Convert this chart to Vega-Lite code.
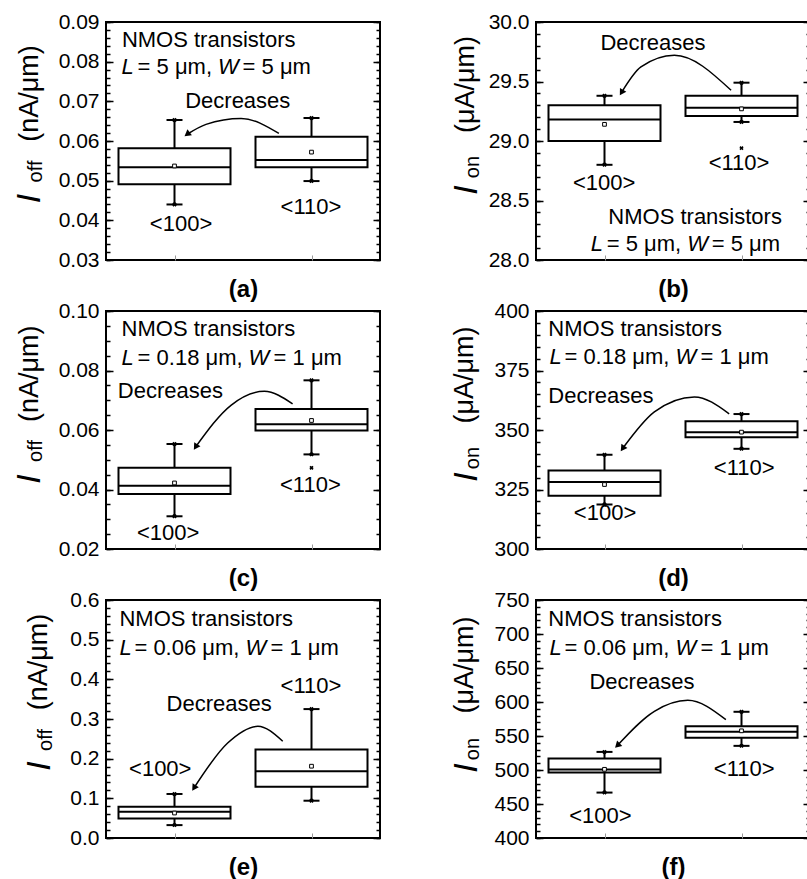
{
"$schema": "https://vega.github.io/schema/vega-lite/v6.json",
"padding": {"left": 11, "top": 10, "right": 0, "bottom": 0},
"background": "white",
"columns": 2,
"spacing": {"row": 51, "column": 156},
"bounds": "flush",
"concat": [
{
"width": 274, "height": 238,
"data": {"values": [
 {"orient": "<100>", "lo": 0.0440, "q1": 0.0491, "median": 0.0534, "q3": 0.0582, "hi": 0.0653, "mean": 0.0537},
 {"orient": "<110>", "lo": 0.0499, "q1": 0.0534, "median": 0.0552, "q3": 0.0611, "hi": 0.0658, "mean": 0.0572}]},
"resolve": {"scale": {"x": "independent"}, "axis": {"x": "independent", "y": "independent"}},
"layer": [
 {"mark": {"type": "rule", "strokeWidth": 2, "color": "black"},
  "encoding": {
   "x": {"field": "orient", "type": "nominal", "scale": {"type": "point", "padding": 0.5, "domain": ["<100>", "<110>"]}, "axis": {"orient": "bottom", "labels": false, "domain": false, "tickSize": -5, "tickColor": "#999999", "tickWidth": 1, "title": "(a)", "titleFontSize": 24, "titleFontWeight": "bold", "titlePadding": 17}},
   "y": {"field": "lo", "type": "quantitative", "scale": {"domain": [0.03, 0.09], "nice": false, "zero": false}, "axis": {"orient": "left", "values": [0.03,0.04,0.05,0.06,0.07,0.08,0.09], "format": ".2f", "tickSize": -7, "labelPadding": 14, "domain": false, "title": null}},
   "y2": {"field": "hi"}}},
 {"mark": {"type": "bar", "size": 112, "fill": "white", "stroke": "black", "strokeWidth": 2},
  "encoding": {"x": {"field": "orient", "type": "nominal", "scale": {"type": "point", "padding": 0.5, "domain": ["<100>", "<110>"]}, "axis": null},
   "y": {"field": "q1", "type": "quantitative", "axis": {"orient": "left", "values": [0.03,0.032,0.034,0.036,0.038,0.04,0.042,0.044,0.046,0.048,0.05,0.052,0.054,0.056,0.058,0.06,0.062,0.064,0.066,0.068,0.07,0.072,0.074,0.076,0.078,0.08,0.082,0.084,0.086,0.088,0.09], "labels": false, "tickSize": -4, "domain": false, "title": null}},
   "y2": {"field": "q3"}}},
 {"mark": {"type": "tick", "size": 112, "thickness": 2, "color": "black", "opacity": 1},
  "encoding": {"x": {"field": "orient", "type": "nominal", "scale": {"type": "point", "padding": 0.5, "domain": ["<100>", "<110>"]}, "axis": null},
   "y": {"field": "median", "type": "quantitative", "axis": {"orient": "right", "values": [0.03,0.04,0.05,0.06,0.07,0.08,0.09], "labels": false, "tickSize": -7, "domain": false, "title": null}}}},
 {"transform": [{"fold": ["lo", "hi"], "as": ["end", "v"]}],
  "mark": {"type": "tick", "size": 16, "thickness": 2, "color": "black", "opacity": 1},
  "encoding": {"x": {"field": "orient", "type": "nominal", "scale": {"type": "point", "padding": 0.5, "domain": ["<100>", "<110>"]}, "axis": null},
   "y": {"field": "v", "type": "quantitative", "axis": {"orient": "right", "values": [0.03,0.032,0.034,0.036,0.038,0.04,0.042,0.044,0.046,0.048,0.05,0.052,0.054,0.056,0.058,0.06,0.062,0.064,0.066,0.068,0.07,0.072,0.074,0.076,0.078,0.08,0.082,0.084,0.086,0.088,0.09], "labels": false, "tickSize": -4, "domain": false, "title": null}}}},
 {"transform": [{"fold": ["lo", "hi"], "as": ["end", "v"]}],
  "mark": {"type": "point", "shape": "cross", "angle": 45, "size": 20, "filled": true, "color": "black", "opacity": 1},
  "encoding": {"x": {"field": "orient", "type": "nominal", "scale": {"type": "point", "padding": 0.5, "domain": ["<100>", "<110>"]}, "axis": null},
   "y": {"field": "v", "type": "quantitative", "axis": null}}},
 {"mark": {"type": "point", "shape": "square", "size": 14, "filled": true, "fill": "white", "stroke": "black", "strokeWidth": 1, "opacity": 1},
  "encoding": {"x": {"field": "orient", "type": "nominal", "scale": {"type": "point", "padding": 0.5, "domain": ["<100>", "<110>"]}, "axis": null},
   "y": {"field": "mean", "type": "quantitative", "axis": null}}},
 {"data": {"values": [{"x": 0.631, "y": 0.0619}, {"x": 0.493, "y": 0.0657}, {"x": 0.365, "y": 0.0642}, {"x": 0.296, "y": 0.0617}]},
  "mark": {"type": "line", "interpolate": "monotone", "strokeWidth": 1.5, "color": "black"},
  "encoding": {"x": {"field": "x", "type": "quantitative", "scale": {"domain": [0, 1]}, "axis": null}, "y": {"field": "y", "type": "quantitative", "axis": null}}},
 {"data": {"values": [{}]},
  "mark": {"type": "point", "shape": "triangle-up", "size": 55, "filled": true, "color": "black", "opacity": 1, "angle": 233},
  "encoding": {"x": {"datum": 0.296, "type": "quantitative", "scale": {"domain": [0, 1]}, "axis": null}, "y": {"datum": 0.0617, "type": "quantitative", "axis": null}}},
 {"data": {"values": [{}]},
  "encoding": {"x": {"datum": -0.25, "type": "quantitative", "scale": {"domain": [0, 1]}, "axis": null}, "y": {"datum": 0.06, "type": "quantitative", "axis": null}},
  "layer": [
   {"mark": {"type": "text", "text": "I", "fontStyle": "italic", "fontSize": 34, "angle": 270, "align": "center", "dx": -57.5, "dy": 2.5}},
   {"mark": {"type": "text", "text": "off", "fontSize": 20, "angle": 270, "align": "center", "dx": -30.5, "dy": 4.5}},
   {"mark": {"type": "text", "text": "(nA/μm)", "fontSize": 27, "angle": 270, "align": "center", "dx": 47.5, "dy": 0}}]},
 {"data": {"values": [{}]}, "mark": {"type": "text", "text": "NMOS transistors"},
  "encoding": {"x": {"datum": 0.058, "type": "quantitative", "scale": {"domain": [0, 1]}, "axis": null}, "y": {"datum": 0.0837, "type": "quantitative", "axis": null}}},
 {"data": {"values": [{}]},
  "encoding": {"x": {"datum": 0.057, "type": "quantitative", "scale": {"domain": [0, 1]}, "axis": null}, "y": {"datum": 0.0770, "type": "quantitative", "axis": null}},
  "layer": [
   {"mark": {"type": "text", "text": "L", "fontStyle": "italic"}},
   {"mark": {"type": "text", "text": "= 5 μm,", "dx": 16}},
   {"mark": {"type": "text", "text": "W", "fontStyle": "italic", "dx": 96.5}},
   {"mark": {"type": "text", "text": "= 5 μm", "dx": 121}}]},
 {"data": {"values": [{}]}, "mark": {"type": "text", "text": "Decreases"},
  "encoding": {"x": {"datum": 0.289, "type": "quantitative", "scale": {"domain": [0, 1]}, "axis": null}, "y": {"datum": 0.0682, "type": "quantitative", "axis": null}}},
 {"data": {"values": [{}]}, "mark": {"type": "text", "text": "<100>", "align": "center"},
  "encoding": {"x": {"datum": 0.274, "type": "quantitative", "scale": {"domain": [0, 1]}, "axis": null}, "y": {"datum": 0.0374, "type": "quantitative", "axis": null}}},
 {"data": {"values": [{}]}, "mark": {"type": "text", "text": "<110>", "align": "center"},
  "encoding": {"x": {"datum": 0.748, "type": "quantitative", "scale": {"domain": [0, 1]}, "axis": null}, "y": {"datum": 0.0415, "type": "quantitative", "axis": null}}}
]},
{
"width": 274, "height": 238,
"data": {"values": [
 {"orient": "<100>", "lo": 28.80, "q1": 29.00, "median": 29.18, "q3": 29.30, "hi": 29.38, "mean": 29.14},
 {"orient": "<110>", "lo": 29.16, "q1": 29.21, "median": 29.28, "q3": 29.38, "hi": 29.49, "mean": 29.27}]},
"resolve": {"scale": {"x": "independent"}, "axis": {"x": "independent", "y": "independent"}},
"layer": [
 {"mark": {"type": "rule", "strokeWidth": 2, "color": "black"},
  "encoding": {
   "x": {"field": "orient", "type": "nominal", "scale": {"type": "point", "padding": 0.5, "domain": ["<100>", "<110>"]}, "axis": {"orient": "bottom", "labels": false, "domain": false, "tickSize": -5, "tickColor": "#999999", "tickWidth": 1, "title": "(b)", "titleFontSize": 24, "titleFontWeight": "bold", "titlePadding": 17}},
   "y": {"field": "lo", "type": "quantitative", "scale": {"domain": [28, 30], "nice": false, "zero": false}, "axis": {"orient": "left", "values": [28,28.5,29,29.5,30], "format": ".1f", "tickSize": -7, "labelPadding": 14, "domain": false, "title": null}},
   "y2": {"field": "hi"}}},
 {"mark": {"type": "bar", "size": 112, "fill": "white", "stroke": "black", "strokeWidth": 2},
  "encoding": {"x": {"field": "orient", "type": "nominal", "scale": {"type": "point", "padding": 0.5, "domain": ["<100>", "<110>"]}, "axis": null},
   "y": {"field": "q1", "type": "quantitative", "axis": {"orient": "left", "values": [28,28.1,28.2,28.3,28.4,28.5,28.6,28.7,28.8,28.9,29,29.1,29.2,29.3,29.4,29.5,29.6,29.7,29.8,29.9,30], "labels": false, "tickSize": -4, "domain": false, "title": null}},
   "y2": {"field": "q3"}}},
 {"mark": {"type": "tick", "size": 112, "thickness": 2, "color": "black", "opacity": 1},
  "encoding": {"x": {"field": "orient", "type": "nominal", "scale": {"type": "point", "padding": 0.5, "domain": ["<100>", "<110>"]}, "axis": null},
   "y": {"field": "median", "type": "quantitative", "axis": {"orient": "right", "values": [28,28.5,29,29.5,30], "labels": false, "tickSize": -7, "domain": false, "title": null}}}},
 {"transform": [{"fold": ["lo", "hi"], "as": ["end", "v"]}],
  "mark": {"type": "tick", "size": 16, "thickness": 2, "color": "black", "opacity": 1},
  "encoding": {"x": {"field": "orient", "type": "nominal", "scale": {"type": "point", "padding": 0.5, "domain": ["<100>", "<110>"]}, "axis": null},
   "y": {"field": "v", "type": "quantitative", "axis": {"orient": "right", "values": [28,28.1,28.2,28.3,28.4,28.5,28.6,28.7,28.8,28.9,29,29.1,29.2,29.3,29.4,29.5,29.6,29.7,29.8,29.9,30], "labels": false, "tickSize": -4, "domain": false, "title": null}}}},
 {"transform": [{"fold": ["lo", "hi"], "as": ["end", "v"]}],
  "mark": {"type": "point", "shape": "cross", "angle": 45, "size": 20, "filled": true, "color": "black", "opacity": 1},
  "encoding": {"x": {"field": "orient", "type": "nominal", "scale": {"type": "point", "padding": 0.5, "domain": ["<100>", "<110>"]}, "axis": null},
   "y": {"field": "v", "type": "quantitative", "axis": null}}},
 {"mark": {"type": "point", "shape": "square", "size": 14, "filled": true, "fill": "white", "stroke": "black", "strokeWidth": 1, "opacity": 1},
  "encoding": {"x": {"field": "orient", "type": "nominal", "scale": {"type": "point", "padding": 0.5, "domain": ["<100>", "<110>"]}, "axis": null},
   "y": {"field": "mean", "type": "quantitative", "axis": null}}},
 {"data": {"values": [{"orient": "<110>", "value": 28.94}]},
  "mark": {"type": "point", "shape": "cross", "angle": 45, "size": 18, "filled": true, "color": "black", "opacity": 1},
  "encoding": {"x": {"field": "orient", "type": "nominal", "scale": {"type": "point", "padding": 0.5, "domain": ["<100>", "<110>"]}, "axis": null},
   "y": {"field": "value", "type": "quantitative", "axis": null}}},
 {"data": {"values": [{"x": 0.712, "y": 29.426}, {"x": 0.505, "y": 29.72}, {"x": 0.383, "y": 29.622}, {"x": 0.312, "y": 29.407}]},
  "mark": {"type": "line", "interpolate": "monotone", "strokeWidth": 1.5, "color": "black"},
  "encoding": {"x": {"field": "x", "type": "quantitative", "scale": {"domain": [0, 1]}, "axis": null}, "y": {"field": "y", "type": "quantitative", "axis": null}}},
 {"data": {"values": [{}]},
  "mark": {"type": "point", "shape": "triangle-up", "size": 55, "filled": true, "color": "black", "opacity": 1, "angle": 211},
  "encoding": {"x": {"datum": 0.312, "type": "quantitative", "scale": {"domain": [0, 1]}, "axis": null}, "y": {"datum": 29.407, "type": "quantitative", "axis": null}}},
 {"data": {"values": [{}]},
  "encoding": {"x": {"datum": -0.25, "type": "quantitative", "scale": {"domain": [0, 1]}, "axis": null}, "y": {"datum": 29, "type": "quantitative", "axis": null}},
  "layer": [
   {"mark": {"type": "text", "text": "I", "fontStyle": "italic", "fontSize": 34, "angle": 270, "align": "center", "dx": -49, "dy": 9}},
   {"mark": {"type": "text", "text": "on", "fontSize": 20, "angle": 270, "align": "center", "dx": -26, "dy": 11}},
   {"mark": {"type": "text", "text": "(μA/μm)", "fontSize": 27, "angle": 270, "align": "center", "dx": 56.5, "dy": 6}}]},
 {"data": {"values": [{}]}, "mark": {"type": "text", "text": "Decreases"},
  "encoding": {"x": {"datum": 0.235, "type": "quantitative", "scale": {"domain": [0, 1]}, "axis": null}, "y": {"datum": 29.762, "type": "quantitative", "axis": null}}},
 {"data": {"values": [{}]}, "mark": {"type": "text", "text": "<100>", "align": "center"},
  "encoding": {"x": {"datum": 0.249, "type": "quantitative", "scale": {"domain": [0, 1]}, "axis": null}, "y": {"datum": 28.586, "type": "quantitative", "axis": null}}},
 {"data": {"values": [{}]}, "mark": {"type": "text", "text": "<110>", "align": "center"},
  "encoding": {"x": {"datum": 0.741, "type": "quantitative", "scale": {"domain": [0, 1]}, "axis": null}, "y": {"datum": 28.754, "type": "quantitative", "axis": null}}},
 {"data": {"values": [{}]}, "mark": {"type": "text", "text": "NMOS transistors"},
  "encoding": {"x": {"datum": 0.264, "type": "quantitative", "scale": {"domain": [0, 1]}, "axis": null}, "y": {"datum": 28.305, "type": "quantitative", "axis": null}}},
 {"data": {"values": [{}]},
  "encoding": {"x": {"datum": 0.2, "type": "quantitative", "scale": {"domain": [0, 1]}, "axis": null}, "y": {"datum": 28.073, "type": "quantitative", "axis": null}},
  "layer": [
   {"mark": {"type": "text", "text": "L", "fontStyle": "italic"}},
   {"mark": {"type": "text", "text": "= 5 μm,", "dx": 16}},
   {"mark": {"type": "text", "text": "W", "fontStyle": "italic", "dx": 96.5}},
   {"mark": {"type": "text", "text": "= 5 μm", "dx": 121}}]}
]},
{
"width": 274, "height": 238,
"data": {"values": [
 {"orient": "<100>", "lo": 0.0310, "q1": 0.0385, "median": 0.0413, "q3": 0.0473, "hi": 0.0553, "mean": 0.0422},
 {"orient": "<110>", "lo": 0.0518, "q1": 0.0598, "median": 0.0619, "q3": 0.0671, "hi": 0.0767, "mean": 0.0632}]},
"resolve": {"scale": {"x": "independent"}, "axis": {"x": "independent", "y": "independent"}},
"layer": [
 {"mark": {"type": "rule", "strokeWidth": 2, "color": "black"},
  "encoding": {
   "x": {"field": "orient", "type": "nominal", "scale": {"type": "point", "padding": 0.5, "domain": ["<100>", "<110>"]}, "axis": {"orient": "bottom", "labels": false, "domain": false, "tickSize": -5, "tickColor": "#999999", "tickWidth": 1, "title": "(c)", "titleFontSize": 24, "titleFontWeight": "bold", "titlePadding": 17}},
   "y": {"field": "lo", "type": "quantitative", "scale": {"domain": [0.02, 0.10], "nice": false, "zero": false}, "axis": {"orient": "left", "values": [0.02,0.04,0.06,0.08,0.1], "format": ".2f", "tickSize": -7, "labelPadding": 14, "domain": false, "title": null}},
   "y2": {"field": "hi"}}},
 {"mark": {"type": "bar", "size": 112, "fill": "white", "stroke": "black", "strokeWidth": 2},
  "encoding": {"x": {"field": "orient", "type": "nominal", "scale": {"type": "point", "padding": 0.5, "domain": ["<100>", "<110>"]}, "axis": null},
   "y": {"field": "q1", "type": "quantitative", "axis": {"orient": "left", "values": [0.02,0.025,0.03,0.035,0.04,0.045,0.05,0.055,0.06,0.065,0.07,0.075,0.08,0.085,0.09,0.095,0.1], "labels": false, "tickSize": -4, "domain": false, "title": null}},
   "y2": {"field": "q3"}}},
 {"mark": {"type": "tick", "size": 112, "thickness": 2, "color": "black", "opacity": 1},
  "encoding": {"x": {"field": "orient", "type": "nominal", "scale": {"type": "point", "padding": 0.5, "domain": ["<100>", "<110>"]}, "axis": null},
   "y": {"field": "median", "type": "quantitative", "axis": {"orient": "right", "values": [0.02,0.04,0.06,0.08,0.1], "labels": false, "tickSize": -7, "domain": false, "title": null}}}},
 {"transform": [{"fold": ["lo", "hi"], "as": ["end", "v"]}],
  "mark": {"type": "tick", "size": 16, "thickness": 2, "color": "black", "opacity": 1},
  "encoding": {"x": {"field": "orient", "type": "nominal", "scale": {"type": "point", "padding": 0.5, "domain": ["<100>", "<110>"]}, "axis": null},
   "y": {"field": "v", "type": "quantitative", "axis": {"orient": "right", "values": [0.02,0.025,0.03,0.035,0.04,0.045,0.05,0.055,0.06,0.065,0.07,0.075,0.08,0.085,0.09,0.095,0.1], "labels": false, "tickSize": -4, "domain": false, "title": null}}}},
 {"transform": [{"fold": ["lo", "hi"], "as": ["end", "v"]}],
  "mark": {"type": "point", "shape": "cross", "angle": 45, "size": 20, "filled": true, "color": "black", "opacity": 1},
  "encoding": {"x": {"field": "orient", "type": "nominal", "scale": {"type": "point", "padding": 0.5, "domain": ["<100>", "<110>"]}, "axis": null},
   "y": {"field": "v", "type": "quantitative", "axis": null}}},
 {"mark": {"type": "point", "shape": "square", "size": 14, "filled": true, "fill": "white", "stroke": "black", "strokeWidth": 1, "opacity": 1},
  "encoding": {"x": {"field": "orient", "type": "nominal", "scale": {"type": "point", "padding": 0.5, "domain": ["<100>", "<110>"]}, "axis": null},
   "y": {"field": "mean", "type": "quantitative", "axis": null}}},
 {"data": {"values": [{"orient": "<110>", "value": 0.0473}]},
  "mark": {"type": "point", "shape": "cross", "angle": 45, "size": 18, "filled": true, "color": "black", "opacity": 1},
  "encoding": {"x": {"field": "orient", "type": "nominal", "scale": {"type": "point", "padding": 0.5, "domain": ["<100>", "<110>"]}, "axis": null},
   "y": {"field": "value", "type": "quantitative", "axis": null}}},
 {"data": {"values": [{"x": 0.681, "y": 0.0688}, {"x": 0.578, "y": 0.073}, {"x": 0.456, "y": 0.0683}, {"x": 0.327, "y": 0.0543}]},
  "mark": {"type": "line", "interpolate": "monotone", "strokeWidth": 1.5, "color": "black"},
  "encoding": {"x": {"field": "x", "type": "quantitative", "scale": {"domain": [0, 1]}, "axis": null}, "y": {"field": "y", "type": "quantitative", "axis": null}}},
 {"data": {"values": [{}]},
  "mark": {"type": "point", "shape": "triangle-up", "size": 55, "filled": true, "color": "black", "opacity": 1, "angle": 213},
  "encoding": {"x": {"datum": 0.327, "type": "quantitative", "scale": {"domain": [0, 1]}, "axis": null}, "y": {"datum": 0.0543, "type": "quantitative", "axis": null}}},
 {"data": {"values": [{}]},
  "encoding": {"x": {"datum": -0.25, "type": "quantitative", "scale": {"domain": [0, 1]}, "axis": null}, "y": {"datum": 0.06, "type": "quantitative", "axis": null}},
  "layer": [
   {"mark": {"type": "text", "text": "I", "fontStyle": "italic", "fontSize": 34, "angle": 270, "align": "center", "dx": -49, "dy": 2.5}},
   {"mark": {"type": "text", "text": "off", "fontSize": 20, "angle": 270, "align": "center", "dx": -21, "dy": 4.5}},
   {"mark": {"type": "text", "text": "(nA/μm)", "fontSize": 27, "angle": 270, "align": "center", "dx": 56.3, "dy": 0}}]},
 {"data": {"values": [{}]}, "mark": {"type": "text", "text": "NMOS transistors"},
  "encoding": {"x": {"datum": 0.057, "type": "quantitative", "scale": {"domain": [0, 1]}, "axis": null}, "y": {"datum": 0.0915, "type": "quantitative", "axis": null}}},
 {"data": {"values": [{}]},
  "encoding": {"x": {"datum": 0.057, "type": "quantitative", "scale": {"domain": [0, 1]}, "axis": null}, "y": {"datum": 0.0820, "type": "quantitative", "axis": null}},
  "layer": [
   {"mark": {"type": "text", "text": "L", "fontStyle": "italic"}},
   {"mark": {"type": "text", "text": "= 0.18 μm,", "dx": 16}},
   {"mark": {"type": "text", "text": "W", "fontStyle": "italic", "dx": 127}},
   {"mark": {"type": "text", "text": "= 1 μm", "dx": 152}}]},
 {"data": {"values": [{}]}, "mark": {"type": "text", "text": "Decreases"},
  "encoding": {"x": {"datum": 0.043, "type": "quantitative", "scale": {"domain": [0, 1]}, "axis": null}, "y": {"datum": 0.0708, "type": "quantitative", "axis": null}}},
 {"data": {"values": [{}]}, "mark": {"type": "text", "text": "<100>", "align": "center"},
  "encoding": {"x": {"datum": 0.227, "type": "quantitative", "scale": {"domain": [0, 1]}, "axis": null}, "y": {"datum": 0.0229, "type": "quantitative", "axis": null}}},
 {"data": {"values": [{}]}, "mark": {"type": "text", "text": "<110>", "align": "center"},
  "encoding": {"x": {"datum": 0.746, "type": "quantitative", "scale": {"domain": [0, 1]}, "axis": null}, "y": {"datum": 0.0392, "type": "quantitative", "axis": null}}}
]},
{
"width": 274, "height": 238,
"data": {"values": [
 {"orient": "<100>", "lo": 318.7, "q1": 322.4, "median": 328.1, "q3": 333.0, "hi": 339.6, "mean": 327.1},
 {"orient": "<110>", "lo": 342.1, "q1": 347.0, "median": 349.1, "q3": 353.7, "hi": 356.7, "mean": 349.1}]},
"resolve": {"scale": {"x": "independent"}, "axis": {"x": "independent", "y": "independent"}},
"layer": [
 {"mark": {"type": "rule", "strokeWidth": 2, "color": "black"},
  "encoding": {
   "x": {"field": "orient", "type": "nominal", "scale": {"type": "point", "padding": 0.5, "domain": ["<100>", "<110>"]}, "axis": {"orient": "bottom", "labels": false, "domain": false, "tickSize": -5, "tickColor": "#999999", "tickWidth": 1, "title": "(d)", "titleFontSize": 24, "titleFontWeight": "bold", "titlePadding": 17}},
   "y": {"field": "lo", "type": "quantitative", "scale": {"domain": [300, 400], "nice": false, "zero": false}, "axis": {"orient": "left", "values": [300,325,350,375,400], "format": "d", "tickSize": -7, "labelPadding": 14, "domain": false, "title": null}},
   "y2": {"field": "hi"}}},
 {"mark": {"type": "bar", "size": 112, "fill": "white", "stroke": "black", "strokeWidth": 2},
  "encoding": {"x": {"field": "orient", "type": "nominal", "scale": {"type": "point", "padding": 0.5, "domain": ["<100>", "<110>"]}, "axis": null},
   "y": {"field": "q1", "type": "quantitative", "axis": {"orient": "left", "values": [300,305,310,315,320,325,330,335,340,345,350,355,360,365,370,375,380,385,390,395,400], "labels": false, "tickSize": -4, "domain": false, "title": null}},
   "y2": {"field": "q3"}}},
 {"mark": {"type": "tick", "size": 112, "thickness": 2, "color": "black", "opacity": 1},
  "encoding": {"x": {"field": "orient", "type": "nominal", "scale": {"type": "point", "padding": 0.5, "domain": ["<100>", "<110>"]}, "axis": null},
   "y": {"field": "median", "type": "quantitative", "axis": {"orient": "right", "values": [300,325,350,375,400], "labels": false, "tickSize": -7, "domain": false, "title": null}}}},
 {"transform": [{"fold": ["lo", "hi"], "as": ["end", "v"]}],
  "mark": {"type": "tick", "size": 16, "thickness": 2, "color": "black", "opacity": 1},
  "encoding": {"x": {"field": "orient", "type": "nominal", "scale": {"type": "point", "padding": 0.5, "domain": ["<100>", "<110>"]}, "axis": null},
   "y": {"field": "v", "type": "quantitative", "axis": {"orient": "right", "values": [300,305,310,315,320,325,330,335,340,345,350,355,360,365,370,375,380,385,390,395,400], "labels": false, "tickSize": -4, "domain": false, "title": null}}}},
 {"transform": [{"fold": ["lo", "hi"], "as": ["end", "v"]}],
  "mark": {"type": "point", "shape": "cross", "angle": 45, "size": 20, "filled": true, "color": "black", "opacity": 1},
  "encoding": {"x": {"field": "orient", "type": "nominal", "scale": {"type": "point", "padding": 0.5, "domain": ["<100>", "<110>"]}, "axis": null},
   "y": {"field": "v", "type": "quantitative", "axis": null}}},
 {"mark": {"type": "point", "shape": "square", "size": 14, "filled": true, "fill": "white", "stroke": "black", "strokeWidth": 1, "opacity": 1},
  "encoding": {"x": {"field": "orient", "type": "nominal", "scale": {"type": "point", "padding": 0.5, "domain": ["<100>", "<110>"]}, "axis": null},
   "y": {"field": "mean", "type": "quantitative", "axis": null}}},
 {"data": {"values": [{"x": 0.705, "y": 356.8}, {"x": 0.578, "y": 363.9}, {"x": 0.432, "y": 357.6}, {"x": 0.316, "y": 342.2}]},
  "mark": {"type": "line", "interpolate": "monotone", "strokeWidth": 1.5, "color": "black"},
  "encoding": {"x": {"field": "x", "type": "quantitative", "scale": {"domain": [0, 1]}, "axis": null}, "y": {"field": "y", "type": "quantitative", "axis": null}}},
 {"data": {"values": [{}]},
  "mark": {"type": "point", "shape": "triangle-up", "size": 55, "filled": true, "color": "black", "opacity": 1, "angle": 215},
  "encoding": {"x": {"datum": 0.316, "type": "quantitative", "scale": {"domain": [0, 1]}, "axis": null}, "y": {"datum": 342.2, "type": "quantitative", "axis": null}}},
 {"data": {"values": [{}]},
  "encoding": {"x": {"datum": -0.25, "type": "quantitative", "scale": {"domain": [0, 1]}, "axis": null}, "y": {"datum": 350, "type": "quantitative", "axis": null}},
  "layer": [
   {"mark": {"type": "text", "text": "I", "fontStyle": "italic", "fontSize": 34, "angle": 270, "align": "center", "dx": -47, "dy": 9}},
   {"mark": {"type": "text", "text": "on", "fontSize": 20, "angle": 270, "align": "center", "dx": -28, "dy": 11}},
   {"mark": {"type": "text", "text": "(μA/μm)", "fontSize": 27, "angle": 270, "align": "center", "dx": 55, "dy": 5.5}}]},
 {"data": {"values": [{}]}, "mark": {"type": "text", "text": "NMOS transistors"},
  "encoding": {"x": {"datum": 0.045, "type": "quantitative", "scale": {"domain": [0, 1]}, "axis": null}, "y": {"datum": 389.4, "type": "quantitative", "axis": null}}},
 {"data": {"values": [{}]},
  "encoding": {"x": {"datum": 0.049, "type": "quantitative", "scale": {"domain": [0, 1]}, "axis": null}, "y": {"datum": 377.6, "type": "quantitative", "axis": null}},
  "layer": [
   {"mark": {"type": "text", "text": "L", "fontStyle": "italic"}},
   {"mark": {"type": "text", "text": "= 0.18 μm,", "dx": 15}},
   {"mark": {"type": "text", "text": "W", "fontStyle": "italic", "dx": 126}},
   {"mark": {"type": "text", "text": "= 1 μm", "dx": 151}}]},
 {"data": {"values": [{}]}, "mark": {"type": "text", "text": "Decreases"},
  "encoding": {"x": {"datum": 0.045, "type": "quantitative", "scale": {"domain": [0, 1]}, "axis": null}, "y": {"datum": 361.3, "type": "quantitative", "axis": null}}},
 {"data": {"values": [{}]}, "mark": {"type": "text", "text": "<100>", "align": "center"},
  "encoding": {"x": {"datum": 0.252, "type": "quantitative", "scale": {"domain": [0, 1]}, "axis": null}, "y": {"datum": 312.0, "type": "quantitative", "axis": null}}},
 {"data": {"values": [{}]}, "mark": {"type": "text", "text": "<110>", "align": "center"},
  "encoding": {"x": {"datum": 0.760, "type": "quantitative", "scale": {"domain": [0, 1]}, "axis": null}, "y": {"datum": 331.0, "type": "quantitative", "axis": null}}}
]},
{
"width": 274, "height": 238,
"data": {"values": [
 {"orient": "<100>", "lo": 0.0325, "q1": 0.049, "median": 0.066, "q3": 0.079, "hi": 0.111, "mean": 0.063},
 {"orient": "<110>", "lo": 0.094, "q1": 0.129, "median": 0.168, "q3": 0.223, "hi": 0.325, "mean": 0.181}]},
"resolve": {"scale": {"x": "independent"}, "axis": {"x": "independent", "y": "independent"}},
"layer": [
 {"mark": {"type": "rule", "strokeWidth": 2, "color": "black"},
  "encoding": {
   "x": {"field": "orient", "type": "nominal", "scale": {"type": "point", "padding": 0.5, "domain": ["<100>", "<110>"]}, "axis": {"orient": "bottom", "labels": false, "domain": false, "tickSize": -5, "tickColor": "#999999", "tickWidth": 1, "title": "(e)", "titleFontSize": 24, "titleFontWeight": "bold", "titlePadding": 17}},
   "y": {"field": "lo", "type": "quantitative", "scale": {"domain": [0, 0.6], "nice": false, "zero": false}, "axis": {"orient": "left", "values": [0,0.1,0.2,0.3,0.4,0.5,0.6], "format": ".1f", "tickSize": -7, "labelPadding": 14, "domain": false, "title": null}},
   "y2": {"field": "hi"}}},
 {"mark": {"type": "bar", "size": 112, "fill": "white", "stroke": "black", "strokeWidth": 2},
  "encoding": {"x": {"field": "orient", "type": "nominal", "scale": {"type": "point", "padding": 0.5, "domain": ["<100>", "<110>"]}, "axis": null},
   "y": {"field": "q1", "type": "quantitative", "axis": {"orient": "left", "values": [0,0.02,0.04,0.06,0.08,0.1,0.12,0.14,0.16,0.18,0.2,0.22,0.24,0.26,0.28,0.3,0.32,0.34,0.36,0.38,0.4,0.42,0.44,0.46,0.48,0.5,0.52,0.54,0.56,0.58,0.6], "labels": false, "tickSize": -4, "domain": false, "title": null}},
   "y2": {"field": "q3"}}},
 {"mark": {"type": "tick", "size": 112, "thickness": 2, "color": "black", "opacity": 1},
  "encoding": {"x": {"field": "orient", "type": "nominal", "scale": {"type": "point", "padding": 0.5, "domain": ["<100>", "<110>"]}, "axis": null},
   "y": {"field": "median", "type": "quantitative", "axis": {"orient": "right", "values": [0,0.1,0.2,0.3,0.4,0.5,0.6], "labels": false, "tickSize": -7, "domain": false, "title": null}}}},
 {"transform": [{"fold": ["lo", "hi"], "as": ["end", "v"]}],
  "mark": {"type": "tick", "size": 16, "thickness": 2, "color": "black", "opacity": 1},
  "encoding": {"x": {"field": "orient", "type": "nominal", "scale": {"type": "point", "padding": 0.5, "domain": ["<100>", "<110>"]}, "axis": null},
   "y": {"field": "v", "type": "quantitative", "axis": {"orient": "right", "values": [0,0.02,0.04,0.06,0.08,0.1,0.12,0.14,0.16,0.18,0.2,0.22,0.24,0.26,0.28,0.3,0.32,0.34,0.36,0.38,0.4,0.42,0.44,0.46,0.48,0.5,0.52,0.54,0.56,0.58,0.6], "labels": false, "tickSize": -4, "domain": false, "title": null}}}},
 {"transform": [{"fold": ["lo", "hi"], "as": ["end", "v"]}],
  "mark": {"type": "point", "shape": "cross", "angle": 45, "size": 20, "filled": true, "color": "black", "opacity": 1},
  "encoding": {"x": {"field": "orient", "type": "nominal", "scale": {"type": "point", "padding": 0.5, "domain": ["<100>", "<110>"]}, "axis": null},
   "y": {"field": "v", "type": "quantitative", "axis": null}}},
 {"mark": {"type": "point", "shape": "square", "size": 14, "filled": true, "fill": "white", "stroke": "black", "strokeWidth": 1, "opacity": 1},
  "encoding": {"x": {"field": "orient", "type": "nominal", "scale": {"type": "point", "padding": 0.5, "domain": ["<100>", "<110>"]}, "axis": null},
   "y": {"field": "mean", "type": "quantitative", "axis": null}}},
 {"data": {"values": [{"x": 0.645, "y": 0.2438}, {"x": 0.554, "y": 0.2816}, {"x": 0.444, "y": 0.2395}, {"x": 0.321, "y": 0.1261}]},
  "mark": {"type": "line", "interpolate": "monotone", "strokeWidth": 1.5, "color": "black"},
  "encoding": {"x": {"field": "x", "type": "quantitative", "scale": {"domain": [0, 1]}, "axis": null}, "y": {"field": "y", "type": "quantitative", "axis": null}}},
 {"data": {"values": [{}]},
  "mark": {"type": "point", "shape": "triangle-up", "size": 55, "filled": true, "color": "black", "opacity": 1, "angle": 213},
  "encoding": {"x": {"datum": 0.321, "type": "quantitative", "scale": {"domain": [0, 1]}, "axis": null}, "y": {"datum": 0.1261, "type": "quantitative", "axis": null}}},
 {"data": {"values": [{}]},
  "encoding": {"x": {"datum": -0.25, "type": "quantitative", "scale": {"domain": [0, 1]}, "axis": null}, "y": {"datum": 0.3, "type": "quantitative", "axis": null}},
  "layer": [
   {"mark": {"type": "text", "text": "I", "fontStyle": "italic", "fontSize": 34, "angle": 270, "align": "center", "dx": -47, "dy": 12}},
   {"mark": {"type": "text", "text": "off", "fontSize": 20, "angle": 270, "align": "center", "dx": -21, "dy": 14}},
   {"mark": {"type": "text", "text": "(nA/μm)", "fontSize": 27, "angle": 270, "align": "center", "dx": 57, "dy": 9.5}}]},
 {"data": {"values": [{}]}, "mark": {"type": "text", "text": "NMOS transistors"},
  "encoding": {"x": {"datum": 0.049, "type": "quantitative", "scale": {"domain": [0, 1]}, "axis": null}, "y": {"datum": 0.5337, "type": "quantitative", "axis": null}}},
 {"data": {"values": [{}]},
  "encoding": {"x": {"datum": 0.049, "type": "quantitative", "scale": {"domain": [0, 1]}, "axis": null}, "y": {"datum": 0.4621, "type": "quantitative", "axis": null}},
  "layer": [
   {"mark": {"type": "text", "text": "L", "fontStyle": "italic"}},
   {"mark": {"type": "text", "text": "= 0.06 μm,", "dx": 15}},
   {"mark": {"type": "text", "text": "W", "fontStyle": "italic", "dx": 126}},
   {"mark": {"type": "text", "text": "= 1 μm", "dx": 151}}]},
 {"data": {"values": [{}]}, "mark": {"type": "text", "text": "Decreases"},
  "encoding": {"x": {"datum": 0.221, "type": "quantitative", "scale": {"domain": [0, 1]}, "axis": null}, "y": {"datum": 0.3194, "type": "quantitative", "axis": null}}},
 {"data": {"values": [{}]}, "mark": {"type": "text", "text": "<100>", "align": "center"},
  "encoding": {"x": {"datum": 0.198, "type": "quantitative", "scale": {"domain": [0, 1]}, "axis": null}, "y": {"datum": 0.1555, "type": "quantitative", "axis": null}}},
 {"data": {"values": [{}]}, "mark": {"type": "text", "text": "<110>", "align": "center"},
  "encoding": {"x": {"datum": 0.748, "type": "quantitative", "scale": {"domain": [0, 1]}, "axis": null}, "y": {"datum": 0.3655, "type": "quantitative", "axis": null}}}
]},
{
"width": 274, "height": 238,
"data": {"values": [
 {"orient": "<100>", "lo": 466.8, "q1": 496.2, "median": 500.6, "q3": 516.8, "hi": 526.6, "mean": 501.0},
 {"orient": "<110>", "lo": 535.5, "q1": 547.3, "median": 556.1, "q3": 564.4, "hi": 585.6, "mean": 557.6}]},
"resolve": {"scale": {"x": "independent"}, "axis": {"x": "independent", "y": "independent"}},
"layer": [
 {"mark": {"type": "rule", "strokeWidth": 2, "color": "black"},
  "encoding": {
   "x": {"field": "orient", "type": "nominal", "scale": {"type": "point", "padding": 0.5, "domain": ["<100>", "<110>"]}, "axis": {"orient": "bottom", "labels": false, "domain": false, "tickSize": -5, "tickColor": "#999999", "tickWidth": 1, "title": "(f)", "titleFontSize": 24, "titleFontWeight": "bold", "titlePadding": 17}},
   "y": {"field": "lo", "type": "quantitative", "scale": {"domain": [400, 750], "nice": false, "zero": false}, "axis": {"orient": "left", "values": [400,450,500,550,600,650,700,750], "format": "d", "tickSize": -7, "labelPadding": 14, "domain": false, "title": null}},
   "y2": {"field": "hi"}}},
 {"mark": {"type": "bar", "size": 112, "fill": "white", "stroke": "black", "strokeWidth": 2},
  "encoding": {"x": {"field": "orient", "type": "nominal", "scale": {"type": "point", "padding": 0.5, "domain": ["<100>", "<110>"]}, "axis": null},
   "y": {"field": "q1", "type": "quantitative", "axis": {"orient": "left", "values": [400,410,420,430,440,450,460,470,480,490,500,510,520,530,540,550,560,570,580,590,600,610,620,630,640,650,660,670,680,690,700,710,720,730,740,750], "labels": false, "tickSize": -4, "domain": false, "title": null}},
   "y2": {"field": "q3"}}},
 {"mark": {"type": "tick", "size": 112, "thickness": 2, "color": "black", "opacity": 1},
  "encoding": {"x": {"field": "orient", "type": "nominal", "scale": {"type": "point", "padding": 0.5, "domain": ["<100>", "<110>"]}, "axis": null},
   "y": {"field": "median", "type": "quantitative", "axis": {"orient": "right", "values": [400,450,500,550,600,650,700,750], "labels": false, "tickSize": -7, "domain": false, "title": null}}}},
 {"transform": [{"fold": ["lo", "hi"], "as": ["end", "v"]}],
  "mark": {"type": "tick", "size": 16, "thickness": 2, "color": "black", "opacity": 1},
  "encoding": {"x": {"field": "orient", "type": "nominal", "scale": {"type": "point", "padding": 0.5, "domain": ["<100>", "<110>"]}, "axis": null},
   "y": {"field": "v", "type": "quantitative", "axis": {"orient": "right", "values": [400,410,420,430,440,450,460,470,480,490,500,510,520,530,540,550,560,570,580,590,600,610,620,630,640,650,660,670,680,690,700,710,720,730,740,750], "labels": false, "tickSize": -4, "domain": false, "title": null}}}},
 {"transform": [{"fold": ["lo", "hi"], "as": ["end", "v"]}],
  "mark": {"type": "point", "shape": "cross", "angle": 45, "size": 20, "filled": true, "color": "black", "opacity": 1},
  "encoding": {"x": {"field": "orient", "type": "nominal", "scale": {"type": "point", "padding": 0.5, "domain": ["<100>", "<110>"]}, "axis": null},
   "y": {"field": "v", "type": "quantitative", "axis": null}}},
 {"mark": {"type": "point", "shape": "square", "size": 14, "filled": true, "fill": "white", "stroke": "black", "strokeWidth": 1, "opacity": 1},
  "encoding": {"x": {"field": "orient", "type": "nominal", "scale": {"type": "point", "padding": 0.5, "domain": ["<100>", "<110>"]}, "axis": null},
   "y": {"field": "mean", "type": "quantitative", "axis": null}}},
 {"data": {"values": [{"x": 0.693, "y": 574.0}, {"x": 0.554, "y": 602.5}, {"x": 0.432, "y": 586.3}, {"x": 0.297, "y": 536.0}]},
  "mark": {"type": "line", "interpolate": "monotone", "strokeWidth": 1.5, "color": "black"},
  "encoding": {"x": {"field": "x", "type": "quantitative", "scale": {"domain": [0, 1]}, "axis": null}, "y": {"field": "y", "type": "quantitative", "axis": null}}},
 {"data": {"values": [{}]},
  "mark": {"type": "point", "shape": "triangle-up", "size": 55, "filled": true, "color": "black", "opacity": 1, "angle": 226},
  "encoding": {"x": {"datum": 0.297, "type": "quantitative", "scale": {"domain": [0, 1]}, "axis": null}, "y": {"datum": 536.0, "type": "quantitative", "axis": null}}},
 {"data": {"values": [{}]},
  "encoding": {"x": {"datum": -0.25, "type": "quantitative", "scale": {"domain": [0, 1]}, "axis": null}, "y": {"datum": 575, "type": "quantitative", "axis": null}},
  "layer": [
   {"mark": {"type": "text", "text": "I", "fontStyle": "italic", "fontSize": 34, "angle": 270, "align": "center", "dx": -49, "dy": 9}},
   {"mark": {"type": "text", "text": "on", "fontSize": 20, "angle": 270, "align": "center", "dx": -30, "dy": 11}},
   {"mark": {"type": "text", "text": "(μA/μm)", "fontSize": 27, "angle": 270, "align": "center", "dx": 54, "dy": 5.5}}]},
 {"data": {"values": [{}]}, "mark": {"type": "text", "text": "NMOS transistors"},
  "encoding": {"x": {"datum": 0.045, "type": "quantitative", "scale": {"domain": [0, 1]}, "axis": null}, "y": {"datum": 711.3, "type": "quantitative", "axis": null}}},
 {"data": {"values": [{}]},
  "encoding": {"x": {"datum": 0.049, "type": "quantitative", "scale": {"domain": [0, 1]}, "axis": null}, "y": {"datum": 668.7, "type": "quantitative", "axis": null}},
  "layer": [
   {"mark": {"type": "text", "text": "L", "fontStyle": "italic"}},
   {"mark": {"type": "text", "text": "= 0.06 μm,", "dx": 15}},
   {"mark": {"type": "text", "text": "W", "fontStyle": "italic", "dx": 126}},
   {"mark": {"type": "text", "text": "= 1 μm", "dx": 151}}]},
 {"data": {"values": [{}]}, "mark": {"type": "text", "text": "Decreases"},
  "encoding": {"x": {"datum": 0.195, "type": "quantitative", "scale": {"domain": [0, 1]}, "axis": null}, "y": {"datum": 619.1, "type": "quantitative", "axis": null}}},
 {"data": {"values": [{}]}, "mark": {"type": "text", "text": "<100>", "align": "center"},
  "encoding": {"x": {"datum": 0.235, "type": "quantitative", "scale": {"domain": [0, 1]}, "axis": null}, "y": {"datum": 422.1, "type": "quantitative", "axis": null}}},
 {"data": {"values": [{}]}, "mark": {"type": "text", "text": "<110>", "align": "center"},
  "encoding": {"x": {"datum": 0.760, "type": "quantitative", "scale": {"domain": [0, 1]}, "axis": null}, "y": {"datum": 490.7, "type": "quantitative", "axis": null}}}
]}
],
"config": {
 "font": "Liberation Sans",
 "view": {"stroke": "black", "strokeWidth": 2},
 "axis": {"grid": false, "labelFont": "Liberation Sans", "labelFontSize": 21, "labelColor": "black", "tickColor": "black", "tickWidth": 1.5, "titleFont": "Liberation Sans", "titleColor": "black"},
 "text": {"font": "Liberation Sans", "fontSize": 22, "align": "left", "baseline": "alphabetic", "color": "black"}
}
}
